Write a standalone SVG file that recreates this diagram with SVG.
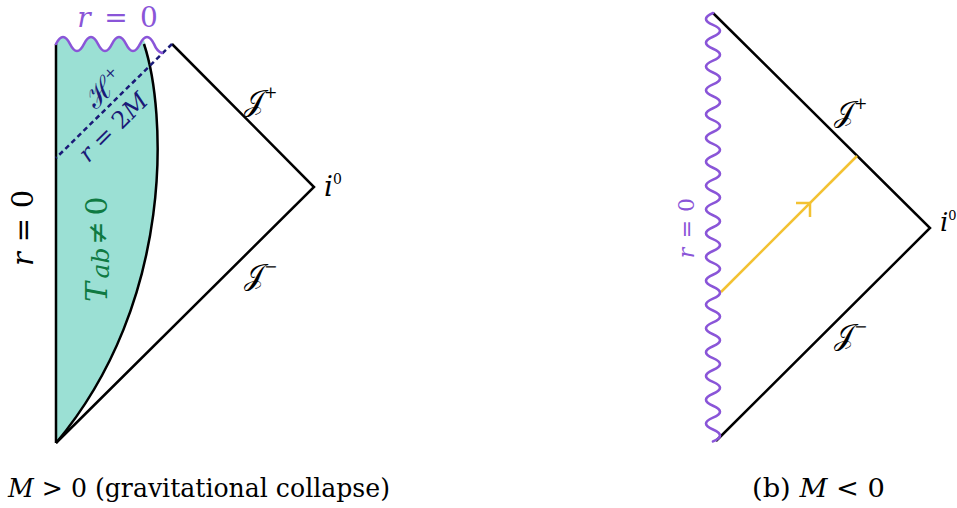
<svg xmlns="http://www.w3.org/2000/svg" width="957" height="508" viewBox="0 0 957 508">
<style>
.ln{fill:none;stroke:#000;stroke-width:2.5;stroke-linejoin:miter}
.wave{fill:none;stroke:#8a55d8;stroke-width:2.6;stroke-linecap:round}
.m{font-family:"DejaVu Serif",serif}
.c{font-family:"DejaVu Serif Condensed","DejaVu Serif",serif}
.it{font-style:italic}
</style>
<rect width="957" height="508" fill="#fff"/>

<g id="left-diagram">
  <g id="matter-region">
    <path d="M56,44 q7,-14 14,0 t14,0 t14,0 t14,0 t14,0 t14,0 L144,40 C166,110 176,300 56,443 Z" fill="#9be0d4"/>
  </g>
  <g id="connectors-left">
    <path class="ln" d="M56,44 L56,443"/>
    <path class="ln" d="M144,44 C166,110 176,300 56,443"/>
    <path class="ln" d="M172,44 L314,187 L56,443"/>
    <path d="M172,44 L56,158" fill="none" stroke="#1a1a78" stroke-width="2.5" stroke-dasharray="5 3.5"/>
    <path class="wave" d="M56,44 q7,-14 14,0 t14,0 t14,0 t14,0 t14,0 t14,0 t14,0 c2,5 5,8 8,9"/>
  </g>
  <g id="label-top-r0" class="m" fill="#8a55d8" font-size="28" text-anchor="middle">
    <text x="84" y="27" class="it">r</text>
    <text x="116" y="27">=</text>
    <text x="149" y="27">0</text>
  </g>
  <g id="label-left-r0" class="m" font-size="29" text-anchor="middle" transform="translate(33,225) rotate(-90)">
    <text x="-34" y="0" class="it">r</text>
    <text x="-5" y="0">=</text>
    <text x="26" y="0">0</text>
  </g>
  <g id="label-Tab" class="m" fill="#0f7a42" font-size="30" text-anchor="middle" transform="translate(107,250) rotate(-90)">
    <text x="-42" y="0" class="it">T</text>
    <text x="-13" y="2" class="it" font-size="25">ab</text>
    <text x="17" y="0" font-size="28">≠</text>
    <text x="44" y="0">0</text>
  </g>
  <g id="label-horizon" class="m" fill="#1a1a78">
    <text transform="translate(104,88) rotate(-45)" text-anchor="middle" dy="0.35em" font-size="28">ℋ<tspan font-size="15" dy="-11">+</tspan></text>
    <text transform="translate(113,127) rotate(-45)" text-anchor="middle" dy="0.35em" font-size="24"><tspan class="it">r</tspan> = 2<tspan class="it">M</tspan></text>
  </g>
  <g id="label-Jplus-left" class="m">
    <text x="244" y="111" font-size="29">𝒥<tspan font-size="16" dy="-13">+</tspan></text>
  </g>
  <g id="label-Jminus-left" class="m">
    <text x="244" y="285" font-size="29">𝒥<tspan font-size="16" dy="-13">−</tspan></text>
  </g>
  <g id="label-i0-left" class="m">
    <text class="it" x="324" y="196" font-size="28">i<tspan font-style="normal" font-size="14" dy="-12">0</tspan></text>
  </g>
</g>

<g id="right-diagram">
  <g id="connectors-right">
    <path class="ln" d="M713,13 L930,228 L716,441"/>
    <path d="M721,292 L857,156" fill="none" stroke="#f3c232" stroke-width="2.5"/>
    <path d="M796,203 L810,203 L810,217" fill="none" stroke="#f3c232" stroke-width="2.5"/>
    <path class="wave" d="M713,13 q-14,5.95 0,11.9 t0,11.9 t0,11.9 t0,11.9 t0,11.9 t0,11.9 t0,11.9 t0,11.9 t0,11.9 t0,11.9 t0,11.9 t0,11.9 t0,11.9 t0,11.9 t0,11.9 t0,11.9 t0,11.9 t0,11.9 t0,11.9 t0,11.9 t0,11.9 t0,11.9 t0,11.9 t0,11.9 t0,11.9 t0,11.9 t0,11.9 t0,11.9 t0,11.9 t0,11.9 t0,11.9 t0,11.9 t0,11.9 t0,11.9 t0,11.9 t0,11.9"/>
  </g>
  <g id="label-right-r0" class="m" fill="#8a55d8" font-size="22" text-anchor="middle" transform="translate(694,229) rotate(-90)">
    <text x="-24" y="0" class="it">r</text>
    <text x="0" y="0">=</text>
    <text x="24" y="0">0</text>
  </g>
  <g id="label-Jplus-right" class="m">
    <text x="834" y="122" font-size="29">𝒥<tspan font-size="16" dy="-13">+</tspan></text>
  </g>
  <g id="label-Jminus-right" class="m">
    <text x="834" y="345" font-size="29">𝒥<tspan font-size="16" dy="-13">−</tspan></text>
  </g>
  <g id="label-i0-right" class="m">
    <text class="it" x="940" y="231" font-size="26">i<tspan font-style="normal" font-size="13" dy="-11">0</tspan></text>
  </g>
</g>

<g id="captions" class="c" font-size="26">
  <text x="8" y="497" textLength="382" lengthAdjust="spacingAndGlyphs"><tspan class="it">M</tspan> &gt; 0 (gravitational collapse)</text>
  <text x="752" y="497" textLength="133" lengthAdjust="spacingAndGlyphs">(b) <tspan class="it">M</tspan> &lt; 0</text>
</g>
</svg>
